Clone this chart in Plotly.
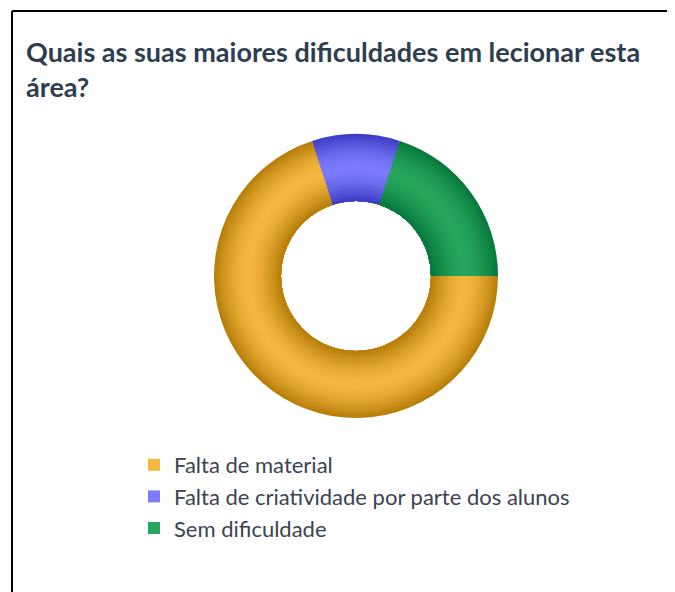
import plotly.graph_objects as go

# ---- data ----
labels = ["Falta de material", "Falta de criatividade por parte dos alunos", "Sem dificuldade"]
values = [70, 10, 20]
light_colors = ["#F5B73F", "#7B7BFB", "#27A65D"]
dark_colors = ["#B57C08", "#3A3AC4", "#06773A"]
title_text = "Quais as suas maiores dificuldades em lecionar esta<br>área?"

OFF = 8                    # default page body margin
W, H = 675 - OFF, 592 - OFF
cx, cy = 356 - OFF, 276 - OFF   # donut centre (px, in figure)
r_out, r_in = 142, 75           # radii (px)
N = 30                          # number of shading bands


def hex2rgb(h):
    h = h.lstrip("#")
    return [int(h[i:i + 2], 16) for i in (0, 2, 4)]


def mix(a, b, t):
    ca, cb = hex2rgb(a), hex2rgb(b)
    return "rgb(%d,%d,%d)" % tuple(round(ca[i] + (cb[i] - ca[i]) * t) for i in range(3))


def px_x(x):
    return (x - OFF) / W


def px_y(y):
    return 1 - (y - OFF) / H


fig = go.Figure()
r_mid = (r_out + r_in) / 2
half = (r_out - r_in) / 2
for k in range(N):
    r = r_out - k * (r_out - r_in) / N
    rc = r - (r_out - r_in) / N / 2
    t = min(1.0, abs(rc - r_mid) / half)
    t = t ** 1.6
    cols = [mix(light_colors[i], dark_colors[i], t) for i in range(3)]
    fig.add_trace(go.Pie(
        labels=labels, values=values, sort=False, direction="clockwise", rotation=90,
        hole=r_in / r, textinfo="none", hoverinfo="label+percent",
        marker=dict(colors=cols, line=dict(width=0)),
        domain=dict(x=[(cx - r) / W, (cx + r) / W], y=[1 - (cy + r) / H, 1 - (cy - r) / H]),
        showlegend=False,
    ))

# legend-only trace with flat colours
fig.add_trace(go.Pie(
    labels=labels, values=values, sort=False, direction="clockwise", rotation=90,
    hole=0.99, textinfo="none", marker=dict(colors=light_colors, line=dict(width=0)),
    domain=dict(x=[(cx - 1) / W, (cx + 1) / W], y=[1 - (cy + 1) / H, 1 - (cy - 1) / H]),
    showlegend=True,
))

title_font = dict(family="Lato", size=27, color="#2C3E50", weight="bold")
fig.update_layout(
    width=W, height=H,
    margin=dict(l=0, r=0, t=0, b=0),
    paper_bgcolor="white", plot_bgcolor="white",
    font=dict(family="Lato, sans-serif", color="#3B4350"),
    annotations=[
        dict(text=title_text, x=px_x(24), y=px_y(33), xref="paper", yref="paper",
             xanchor="left", yanchor="top", align="left", showarrow=False, font=title_font),
    ],
    legend=dict(x=px_x(134), xanchor="left", y=px_y(444), yanchor="top",
                font=dict(family="Lato", size=22, color="#3B4350"),
                bgcolor="rgba(0,0,0,0)"),
    shapes=[
        dict(type="line", xref="paper", yref="paper", x0=px_x(12), x1=1, y0=px_y(11), y1=px_y(11),
             line=dict(color="black", width=2)),
        dict(type="line", xref="paper", yref="paper", x0=px_x(12), x1=px_x(12), y0=0, y1=px_y(11),
             line=dict(color="black", width=2)),
    ],
)

fig.write_html("out.html")
